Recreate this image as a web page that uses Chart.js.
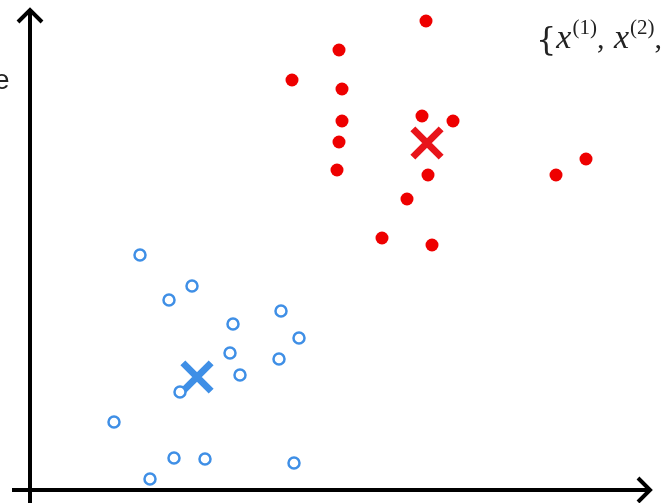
<!DOCTYPE html>
<html>
<head>
<meta charset="utf-8">
<script src="https://cdn.jsdelivr.net/npm/chart.js@4/dist/chart.umd.min.js"></script>
<style>
  html, body { margin: 0; padding: 0; background: #fff; }
  #wrap { width: 664px; height: 503px; }
</style>
</head>
<body>
<div id="wrap"><canvas id="chart"></canvas></div>
<script>
// данные: две группы точек и их центры
const blueX = [2.2, 3.24, 2.78, 5.02, 4.06, 5.38, 4.0, 4.98, 4.2, 3.0, 1.68, 2.88, 3.5, 5.28, 2.4];
const blueY = [4.7, 4.08, 3.8, 3.58, 3.32, 3.04, 2.74, 2.62, 2.3, 1.96, 1.36, 0.64, 0.62, 0.54, 0.22];
const redX = [7.92, 6.18, 5.24, 6.24, 7.84, 8.46, 6.24, 6.18, 6.14, 7.96, 11.12, 10.52, 7.54, 7.04, 8.04];
const redY = [9.38, 8.8, 8.2, 8.02, 7.48, 7.38, 7.38, 6.96, 6.4, 6.3, 6.62, 6.3, 5.82, 5.04, 4.9];
const blueCenter = [3.34, 2.26];
const redCenter = [7.94, 6.94];
const xMax = 12.4;
const yMax = 9.6;

function toPoints(xs, ys) {
  return xs.map((x, i) => ({ x: x, y: ys[i] }));
}

// оси со стрелками и подписи
const axesPlugin = {
  id: 'axes',
  beforeDatasetsDraw(chart) {
    const ctx = chart.ctx;
    const sx = chart.scales.x, sy = chart.scales.y;
    const x0 = sx.getPixelForValue(0), y0 = sy.getPixelForValue(0);
    const xEnd = sx.getPixelForValue(xMax), yEnd = sy.getPixelForValue(yMax);
    ctx.save();
    ctx.strokeStyle = '#000';
    ctx.lineWidth = 4;
    ctx.lineCap = 'butt';
    ctx.beginPath();
    ctx.moveTo(x0, 503);
    ctx.lineTo(x0, yEnd + 2);
    ctx.moveTo(12, y0);
    ctx.lineTo(xEnd - 2, y0);
    ctx.stroke();
    ctx.lineJoin = 'miter';
    ctx.beginPath();
    ctx.moveTo(x0 - 12, yEnd + 12);
    ctx.lineTo(x0, yEnd);
    ctx.lineTo(x0 + 12, yEnd + 12);
    ctx.moveTo(xEnd - 12, y0 - 12);
    ctx.lineTo(xEnd, y0);
    ctx.lineTo(xEnd - 12, y0 + 12);
    ctx.stroke();

    // текст
    ctx.fillStyle = '#222';
    ctx.textBaseline = 'alphabetic';
    ctx.font = '28px "Liberation Sans", sans-serif';
    ctx.fillText('e', -6, 89);
    let x = 536;
    const base = 50;
    ctx.font = '32px "DejaVu Serif", serif';
    ctx.fillText('{', x, base);
    x += ctx.measureText('{').width;
    ['1', '2'].forEach(n => {
      ctx.font = 'italic 34px "Liberation Serif", serif';
      ctx.fillText('x', x, base - 2);
      x += ctx.measureText('x').width + 1;
      ctx.font = '21px "Liberation Serif", serif';
      ctx.fillText('(' + n + ')', x, base - 16);
      x += ctx.measureText('(' + n + ')').width;
      ctx.font = '30px "Liberation Serif", serif';
      ctx.fillText(',', x, base - 2);
      x += ctx.measureText(', ').width + 2;
    });
    ctx.restore();
  }
};

new Chart(document.getElementById('chart'), {
  type: 'scatter',
  data: {
    datasets: [{
      label: 'blue',
      data: toPoints(blueX, blueY),
      pointStyle: 'circle',
      pointRadius: 5.5,
      backgroundColor: '#fff',
      borderColor: '#3f8fe6',
      borderWidth: 2.5
    }, {
      label: 'red',
      data: toPoints(redX, redY),
      pointStyle: 'circle',
      pointRadius: 6.5,
      backgroundColor: '#ee0000',
      borderColor: '#ee0000',
      borderWidth: 0
    }, {
      label: 'blue center',
      data: [{ x: blueCenter[0], y: blueCenter[1] }],
      pointStyle: 'crossRot',
      pointRadius: 20,
      borderColor: '#3f8fe6',
      borderWidth: 7
    }, {
      label: 'red center',
      data: [{ x: redCenter[0], y: redCenter[1] }],
      pointStyle: 'crossRot',
      pointRadius: 20,
      borderColor: '#e8141a',
      borderWidth: 7
    }]
  },
  options: {
    responsive: true,
    maintainAspectRatio: false,
    animation: false,
    clip: false,
    layout: { autoPadding: false, padding: { left: 30, right: 14, top: 10, bottom: 13 } },
    plugins: {
      legend: { display: false },
      tooltip: { enabled: false }
    },
    scales: {
      x: { type: 'linear', min: 0, max: xMax, display: false },
      y: { type: 'linear', min: 0, max: yMax, display: false }
    }
  },
  plugins: [axesPlugin]
});
</script>
</body>
</html>
